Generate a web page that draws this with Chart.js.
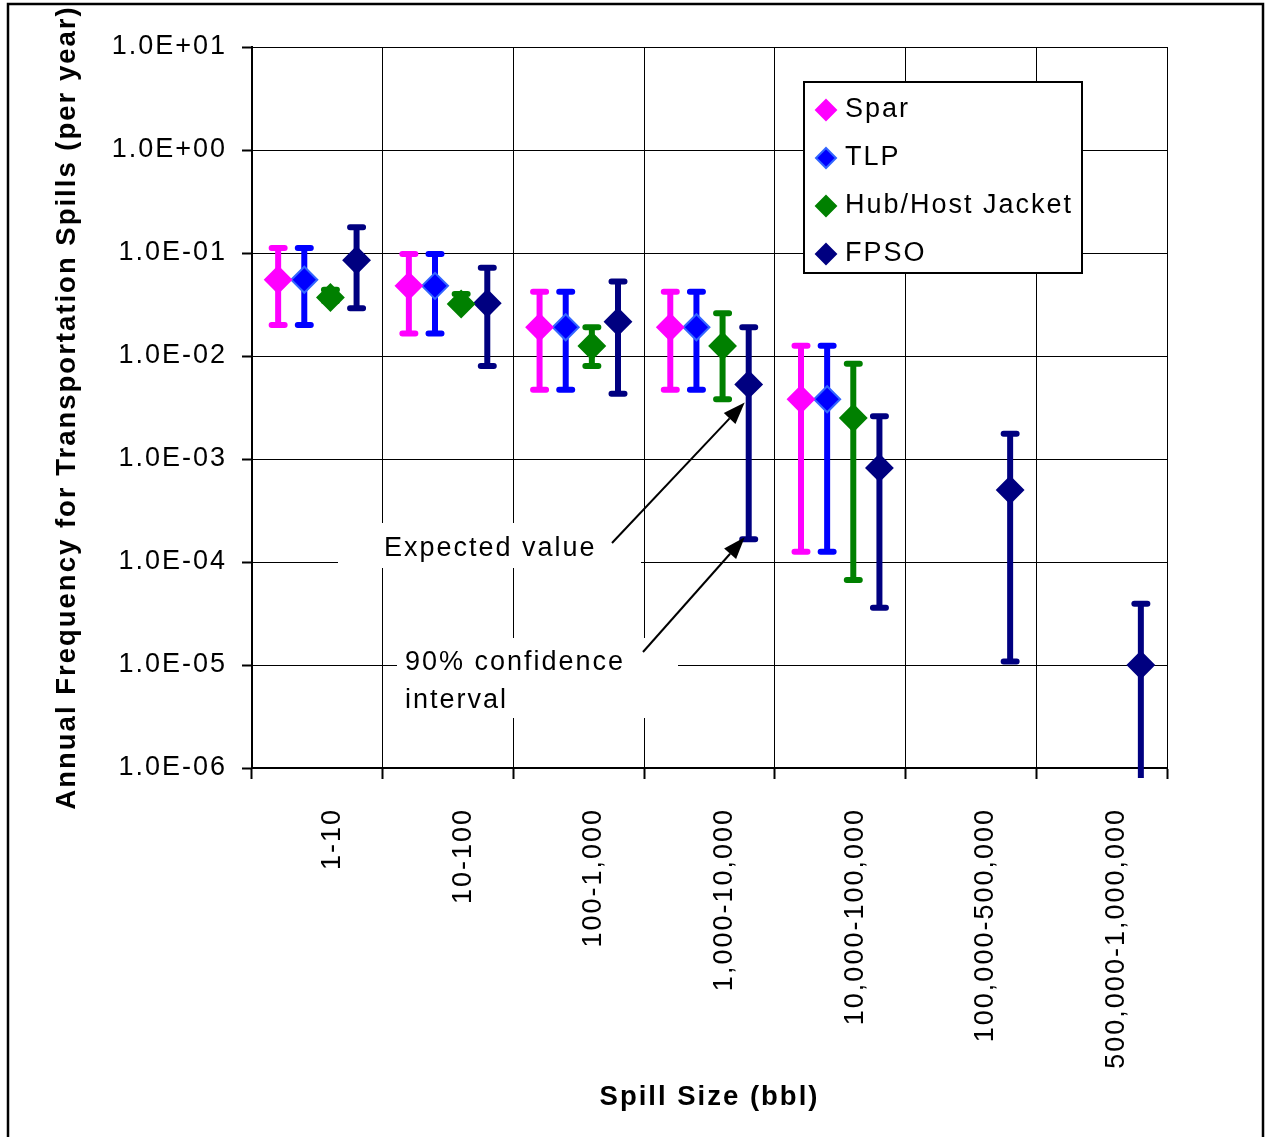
<!DOCTYPE html>
<html>
<head>
<meta charset="utf-8">
<script src="https://cdn.jsdelivr.net/npm/chart.js@4.4.1/dist/chart.umd.min.js"></script>
<style>
  html, body { margin: 0; padding: 0; background: #fff; }
  #graph1 { display: block; }
</style>
</head>
<body>
<canvas id="graph1" width="1265" height="1137"></canvas>
<script>
// spill size classes (bbl)
var categories = ['1-10', '10-100', '100-1,000', '1,000-10,000', '10,000-100,000', '100,000-500,000', '500,000-1,000,000'];

// expected annual frequency and 90% confidence bounds per facility type
var spar   = [0.055, 0.048, 0.019, 0.019, 0.0038, null, null];
var sparLo = [0.020, 0.0165, 0.0047, 0.0047, 0.000126, null, null];
var sparHi = [0.112, 0.098, 0.042, 0.042, 0.0126, null, null];

var tlp   = [0.055, 0.048, 0.019, 0.019, 0.0038, null, null];
var tlpLo = [0.020, 0.0165, 0.0047, 0.0047, 0.000126, null, null];
var tlpHi = [0.112, 0.098, 0.042, 0.042, 0.0126, null, null];

var hub   = [0.037, 0.032, 0.0125, 0.0125, 0.0025, null, null];
var hubLo = [0.034, 0.030, 0.008, 0.0038, 0.000067, null, null];
var hubHi = [0.044, 0.040, 0.019, 0.026, 0.0084, null, null];

var fpso   = [0.085, 0.0325, 0.0215, 0.0053, 0.00082, 0.0005, 0.00001];
var fpsoLo = [0.029, 0.008, 0.0043, 0.000166, 0.000036, 0.0000108, 0.0000001];
var fpsoHi = [0.178, 0.072, 0.053, 0.019, 0.0026, 0.00176, 0.0000394];

var yTicks = [1e1, 1e0, 1e-1, 1e-2, 1e-3, 1e-4, 1e-5, 1e-6];

var FONT = "'Liberation Sans', Arial, sans-serif";
var fpsoShift = 0.3;

function sciLabel(v) {
  var e = Math.round(Math.log10(v));
  var a = Math.abs(e);
  return '1.0E' + (e < 0 ? '-' : '+') + (a < 10 ? '0' : '') + a;
}

function makeSet(label, vals, lo, hi, shift, fill, edge) {
  return {
    label: label,
    data: vals.map(function(v, i) { return { x: i + shift, y: v }; }),
    lo: lo, hi: hi,
    pointStyle: 'rectRot',
    pointRadius: 13,
    pointHoverRadius: 13,
    pointBorderWidth: 2,
    pointBackgroundColor: fill,
    pointBorderColor: edge,
    backgroundColor: fill,
    borderColor: edge,
    barColor: fill
  };
}

// vertical 90% bars with rounded caps, drawn under the diamonds
var errorBars = {
  id: 'errorBars',
  beforeDatasetsDraw: function(chart) {
    var ctx = chart.ctx, xs = chart.scales.x, ys = chart.scales.y, area = chart.chartArea;
    ctx.save();
    ctx.beginPath();
    ctx.rect(area.left, area.top - 20, area.right - area.left, area.bottom - area.top + 30);
    ctx.clip();
    chart.data.datasets.forEach(function(ds) {
      ctx.strokeStyle = ds.barColor;
      ctx.lineWidth = 6;
      ds.data.forEach(function(p, i) {
        if (p.y == null) return;
        var px = xs.getPixelForValue(p.x);
        var yHi = ys.getPixelForValue(ds.hi[i]);
        var yLo = ys.getPixelForValue(ds.lo[i]);
        ctx.lineCap = 'butt';
        ctx.beginPath();
        ctx.moveTo(px, yHi);
        ctx.lineTo(px, yLo);
        ctx.stroke();
        ctx.lineCap = 'round';
        ctx.beginPath();
        ctx.moveTo(px - 6.5, yHi); ctx.lineTo(px + 6.5, yHi);
        if (yLo < area.bottom + 5) { ctx.moveTo(px - 6.5, yLo); ctx.lineTo(px + 6.5, yLo); }
        ctx.stroke();
      });
    });
    ctx.restore();
  }
};

function diamond(ctx, x, y, r, fill, edge) {
  ctx.beginPath();
  ctx.moveTo(x, y - r); ctx.lineTo(x + r, y); ctx.lineTo(x, y + r); ctx.lineTo(x - r, y);
  ctx.closePath();
  ctx.fillStyle = fill; ctx.fill();
  ctx.lineWidth = 2; ctx.strokeStyle = edge; ctx.stroke();
}

function arrow(ctx, x0, y0, x1, y1) {
  var ang = Math.atan2(y1 - y0, x1 - x0), len = 22, half = 8;
  var bx = x1 - len * Math.cos(ang), by = y1 - len * Math.sin(ang);
  ctx.lineWidth = 2; ctx.strokeStyle = '#000'; ctx.fillStyle = '#000';
  ctx.beginPath(); ctx.moveTo(x0, y0); ctx.lineTo(bx, by); ctx.stroke();
  ctx.beginPath();
  ctx.moveTo(x1, y1);
  ctx.lineTo(bx + half * Math.sin(ang), by - half * Math.cos(ang));
  ctx.lineTo(bx - half * Math.sin(ang), by + half * Math.cos(ang));
  ctx.closePath(); ctx.fill();
}

// legend box, callouts and outer frame
var extras = {
  id: 'extras',
  beforeUpdate: function(chart) { chart.ctx.letterSpacing = '2px'; },
  afterDraw: function(chart) {
    var ctx = chart.ctx, area = chart.chartArea, xs = chart.scales.x, ys = chart.scales.y;
    ctx.save();
    ctx.font = '27px ' + FONT;
    ctx.textBaseline = 'middle';
    ctx.textAlign = 'left';

    // legend
    var lx = area.right - 363, ly = area.top + 35;
    ctx.fillStyle = '#fff';
    ctx.fillRect(lx, ly, 278, 191);
    ctx.lineWidth = 2; ctx.strokeStyle = '#000';
    ctx.strokeRect(lx, ly, 278, 191);
    chart.data.datasets.forEach(function(ds, i) {
      var cy = ly + 28 + i * 48;
      diamond(ctx, lx + 22, cy, 10, ds.pointBackgroundColor, ds.pointBorderColor);
      ctx.fillStyle = '#000';
      ctx.fillText(ds.label, lx + 41, cy);
    });

    // callouts
    ctx.fillStyle = '#fff';
    ctx.fillRect(338, 523, 303, 45);
    ctx.fillRect(397, 638, 281, 80);
    ctx.fillStyle = '#000';
    ctx.fillText('Expected value', 384, 549);
    ctx.fillText('90% confidence', 405, 663);
    ctx.fillText('interval', 405, 701);

    var fx = xs.getPixelForValue(3 + fpsoShift);
    arrow(ctx, 612, 543, fx - 4, ys.getPixelForValue(fpso[3]) + 18);
    arrow(ctx, 643, 652, fx - 4, ys.getPixelForValue(fpsoLo[3]) - 2);

    // frame
    ctx.lineWidth = 2.5;
    ctx.strokeStyle = '#000';
    ctx.strokeRect(8, 4, 1255, 1150);
    ctx.restore();
  }
};

document.addEventListener('DOMContentLoaded', function() {
  Chart.defaults.font.family = FONT;
  Chart.defaults.font.size = 27;
  Chart.defaults.color = '#000';

  var ctx = document.querySelector('#graph1').getContext('2d');
  var chart = new Chart(ctx, {
    type: 'scatter',
    data: {
      datasets: [
        makeSet('Spar', spar, sparLo, sparHi, -0.3, '#FF00FF', '#FF00FF'),
        makeSet('TLP', tlp, tlpLo, tlpHi, -0.1, '#0000FF', '#3366FF'),
        makeSet('Hub/Host Jacket', hub, hubLo, hubHi, 0.1, '#008000', '#008000'),
        makeSet('FPSO', fpso, fpsoLo, fpsoHi, fpsoShift, '#000080', '#000080')
      ]
    },
    options: {
      responsive: false,
      animation: false,
      layout: { padding: { left: 0, top: 47, right: 98, bottom: 0 } },
      plugins: {
        legend: { display: false },
        tooltip: { enabled: false }
      },
      scales: {
        x: {
          type: 'linear',
          min: -0.5,
          max: 6.5,
          afterBuildTicks: function(s) {
            s.ticks = categories.map(function(c, i) { return { value: i }; });
          },
          afterFit: function(s) { s.height = 369; },
          grid: { offset: true, color: '#000', lineWidth: 1, tickLength: 11, tickColor: '#000', tickWidth: 2 },
          border: { color: '#000', width: 2 },
          ticks: {
            autoSkip: false,
            minRotation: 90,
            maxRotation: 90,
            labelOffset: 15,
            padding: 29,
            font: { size: 27 },
            callback: function(v) { return categories[Math.round(v)]; }
          },
          title: {
            display: true,
            text: 'Spill Size (bbl)',
            font: { size: 27.5, weight: 'bold' },
            padding: { top: 0, bottom: 23 }
          }
        },
        y: {
          type: 'logarithmic',
          min: 1e-6,
          max: 10,
          afterBuildTicks: function(s) {
            s.ticks = yTicks.map(function(v) { return { value: v }; });
          },
          afterFit: function(s) { s.width = 252; },
          grid: { color: '#000', lineWidth: 1, tickLength: 10, tickColor: '#000', tickWidth: 2 },
          border: { color: '#000', width: 2 },
          ticks: { padding: 15, font: { size: 27 }, callback: sciLabel },
          title: {
            display: true,
            text: 'Annual Frequency for Transportation Spills (per year)',
            font: { size: 27.5, weight: 'bold' },
            padding: { top: 51, bottom: 0 }
          }
        }
      }
    },
    plugins: [errorBars, extras]
  });
});
</script>
</body>
</html>
